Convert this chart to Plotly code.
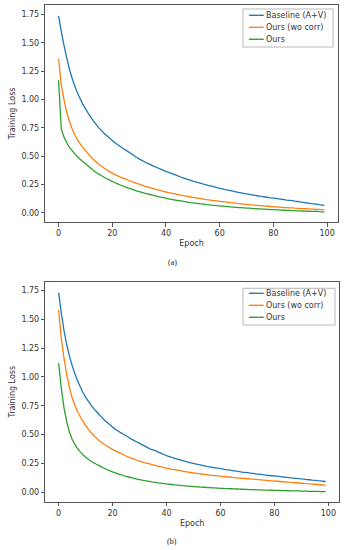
import plotly.graph_objects as go

epochs = list(range(100))

baseline_a = [1.74, 1.60, 1.48, 1.37, 1.27, 1.19, 1.12, 1.06, 1.01, 0.96,
              0.92, 0.88, 0.845, 0.81, 0.78, 0.75, 0.725, 0.70, 0.68, 0.66,
              0.638, 0.618, 0.60, 0.585, 0.568, 0.553, 0.538, 0.523, 0.505, 0.49,
              0.476, 0.463, 0.45, 0.438, 0.427, 0.416, 0.405, 0.395, 0.385, 0.375,
              0.365, 0.356, 0.347, 0.338, 0.329, 0.32, 0.311, 0.303, 0.295, 0.287,
              0.279, 0.272, 0.265, 0.259, 0.252, 0.246, 0.24, 0.234, 0.228, 0.222,
              0.216, 0.211, 0.205, 0.20, 0.195, 0.19, 0.185, 0.18, 0.175, 0.17,
              0.166, 0.162, 0.158, 0.154, 0.15, 0.146, 0.143, 0.139, 0.136, 0.132,
              0.129, 0.126, 0.122, 0.119, 0.116, 0.112, 0.109, 0.106, 0.102, 0.099,
              0.095, 0.092, 0.088, 0.085, 0.081, 0.078, 0.075, 0.071, 0.068, 0.064]
wocorr_a = [1.36, 1.13, 1.00, 0.89, 0.81, 0.745, 0.69, 0.645, 0.61, 0.578,
            0.55, 0.522, 0.495, 0.47, 0.448, 0.428, 0.41, 0.393, 0.378, 0.363,
            0.35, 0.337, 0.325, 0.315, 0.305, 0.296, 0.287, 0.278, 0.269, 0.26,
            0.252, 0.244, 0.236, 0.229, 0.222, 0.215, 0.208, 0.201, 0.195, 0.189,
            0.183, 0.178, 0.173, 0.168, 0.163, 0.158, 0.153, 0.149, 0.145, 0.141,
            0.136, 0.132, 0.128, 0.124, 0.12, 0.116, 0.113, 0.11, 0.107, 0.104,
            0.101, 0.098, 0.095, 0.092, 0.089, 0.087, 0.084, 0.081, 0.079, 0.076,
            0.074, 0.072, 0.069, 0.067, 0.065, 0.063, 0.061, 0.059, 0.057, 0.055,
            0.054, 0.052, 0.05, 0.048, 0.046, 0.045, 0.043, 0.042, 0.04, 0.039,
            0.037, 0.036, 0.035, 0.034, 0.032, 0.031, 0.03, 0.029, 0.028, 0.027]
ours_a = [1.17, 0.74, 0.67, 0.62, 0.58, 0.55, 0.52, 0.495, 0.472, 0.452,
          0.432, 0.412, 0.392, 0.373, 0.356, 0.341, 0.327, 0.313, 0.30, 0.288,
          0.277, 0.265, 0.255, 0.245, 0.236, 0.227, 0.218, 0.21, 0.202, 0.194,
          0.187, 0.18, 0.173, 0.167, 0.161, 0.155, 0.149, 0.143, 0.138, 0.133,
          0.128, 0.123, 0.118, 0.114, 0.11, 0.106, 0.102, 0.098, 0.094, 0.09,
          0.087, 0.084, 0.081, 0.078, 0.075, 0.072, 0.07, 0.067, 0.065, 0.062,
          0.06, 0.058, 0.056, 0.054, 0.052, 0.05, 0.048, 0.046, 0.045, 0.043,
          0.041, 0.04, 0.038, 0.037, 0.035, 0.034, 0.032, 0.031, 0.03, 0.028,
          0.027, 0.026, 0.025, 0.023, 0.022, 0.021, 0.02, 0.019, 0.018, 0.017,
          0.016, 0.015, 0.014, 0.013, 0.012, 0.012, 0.014, 0.01, 0.008, 0.006]

baseline_b = [1.73, 1.55, 1.40, 1.28, 1.18, 1.10, 1.03, 0.97, 0.915, 0.865,
              0.825, 0.79, 0.755, 0.725, 0.70, 0.675, 0.65, 0.625, 0.605, 0.585,
              0.565, 0.548, 0.532, 0.517, 0.503, 0.49, 0.475, 0.461, 0.448, 0.436,
              0.424, 0.412, 0.4, 0.388, 0.375, 0.369, 0.359, 0.348, 0.338, 0.328,
              0.318, 0.31, 0.302, 0.295, 0.288, 0.281, 0.274, 0.268, 0.262, 0.256,
              0.25, 0.245, 0.24, 0.235, 0.23, 0.225, 0.221, 0.217, 0.213, 0.209,
              0.205, 0.201, 0.197, 0.194, 0.19, 0.187, 0.183, 0.18, 0.176, 0.173,
              0.17, 0.167, 0.164, 0.161, 0.158, 0.155, 0.152, 0.149, 0.146, 0.144,
              0.142, 0.14, 0.137, 0.134, 0.131, 0.129, 0.126, 0.124, 0.121, 0.119,
              0.116, 0.114, 0.111, 0.109, 0.106, 0.104, 0.101, 0.099, 0.096, 0.094]
wocorr_b = [1.58, 1.33, 1.16, 1.02, 0.91, 0.82, 0.755, 0.70, 0.655, 0.615,
            0.58, 0.547, 0.518, 0.493, 0.47, 0.45, 0.432, 0.415, 0.40, 0.385,
            0.372, 0.36, 0.348, 0.337, 0.326, 0.315, 0.305, 0.296, 0.287, 0.278,
            0.27, 0.263, 0.256, 0.25, 0.244, 0.238, 0.232, 0.226, 0.22, 0.215,
            0.21, 0.205, 0.20, 0.196, 0.192, 0.188, 0.184, 0.18, 0.176, 0.172,
            0.168, 0.165, 0.162, 0.159, 0.156, 0.153, 0.15, 0.147, 0.145, 0.142,
            0.14, 0.137, 0.135, 0.133, 0.131, 0.128, 0.126, 0.124, 0.122, 0.12,
            0.118, 0.116, 0.114, 0.112, 0.11, 0.108, 0.106, 0.104, 0.102, 0.10,
            0.098, 0.096, 0.094, 0.092, 0.09, 0.088, 0.086, 0.085, 0.083, 0.081,
            0.079, 0.077, 0.076, 0.074, 0.072, 0.07, 0.068, 0.066, 0.064, 0.062]
ours_b = [1.12, 0.90, 0.73, 0.61, 0.52, 0.46, 0.415, 0.38, 0.35, 0.325,
          0.305, 0.286, 0.27, 0.256, 0.243, 0.231, 0.219, 0.207, 0.196, 0.186,
          0.177, 0.169, 0.161, 0.153, 0.146, 0.139, 0.133, 0.127, 0.121, 0.115,
          0.11, 0.105, 0.101, 0.097, 0.093, 0.089, 0.086, 0.082, 0.079, 0.076,
          0.073, 0.07, 0.068, 0.065, 0.063, 0.061, 0.058, 0.056, 0.054, 0.052,
          0.05, 0.048, 0.047, 0.045, 0.044, 0.042, 0.041, 0.039, 0.038, 0.037,
          0.035, 0.034, 0.033, 0.032, 0.031, 0.03, 0.029, 0.028, 0.027, 0.026,
          0.025, 0.024, 0.023, 0.022, 0.022, 0.021, 0.02, 0.019, 0.019, 0.018,
          0.017, 0.017, 0.016, 0.015, 0.015, 0.014, 0.013, 0.013, 0.012, 0.012,
          0.011, 0.01, 0.01, 0.009, 0.009, 0.008, 0.008, 0.007, 0.007, 0.006]

series_names = ["Baseline (A+V)", "Ours (wo corr)", "Ours"]
colors = ["#1f77b4", "#ff7f0e", "#2ca02c"]
x_ticks = [0, 20, 40, 60, 80, 100]
y_ticks = [0.0, 0.25, 0.5, 0.75, 1.0, 1.25, 1.5, 1.75]
captions = ["(a)", "(b)"]

W, H = 346, 550
FONT = "DejaVu Sans"
TXT = "#333333"

fig = go.Figure()
for vals, name, c in zip([baseline_a, wocorr_a, ours_a], series_names, colors):
    fig.add_trace(go.Scatter(x=epochs, y=vals, name=name, mode="lines",
                             line=dict(color=c, width=1.3, simplify=False),
                             xaxis="x", yaxis="y", showlegend=False))
for vals, name, c in zip([baseline_b, wocorr_b, ours_b], series_names, colors):
    fig.add_trace(go.Scatter(x=epochs, y=vals, name=name, mode="lines",
                             line=dict(color=c, width=1.3, simplify=False),
                             xaxis="x2", yaxis="y2", showlegend=False))

def px_x(p):
    return p / W

def px_y(p):
    return 1 - p / H

axis_common = dict(showline=True, mirror=True, linecolor="#555555", linewidth=1,
                   ticks="outside", ticklen=3.5, tickwidth=0.8, tickcolor="#555555",
                   showgrid=False, zeroline=False,
                   tickfont=dict(family=FONT, size=8, color=TXT))

xa = dict(axis_common, tickvals=x_ticks, range=[-4.95, 103.95],
          title=dict(text="Epoch", font=dict(family=FONT, size=8, color=TXT), standoff=3))
ya = dict(axis_common, tickvals=y_ticks, tickformat=".2f",
          title=dict(text="Training Loss", font=dict(family=FONT, size=8, color=TXT), standoff=4))

fig.update_layout(
    width=W, height=H,
    margin=dict(l=0, r=0, t=0, b=0),
    paper_bgcolor="white", plot_bgcolor="white",
    xaxis=dict(xa, domain=[px_x(45.3), px_x(337.7)], anchor="y"),
    yaxis=dict(ya, domain=[px_y(222), px_y(4.7)], range=[-0.082, 1.838], anchor="x"),
    xaxis2=dict(xa, domain=[px_x(45.3), px_x(339)], anchor="y2"),
    yaxis2=dict(ya, domain=[px_y(501.7), px_y(281.7)], range=[-0.081, 1.825], anchor="x2"),
    showlegend=False,
)

# legend boxes (frame + text rows)
legend_specs = [
    dict(box=(243, 9, 333, 47), rows=[15.7, 27.5, 39.3], x0=246),
    dict(box=(243, 288.3, 335, 325), rows=[293.0, 305.0, 317.3], x0=246),
]
for spec in legend_specs:
    bx0, by0, bx1, by1 = spec["box"]
    fig.add_shape(type="rect", xref="paper", yref="paper",
                  x0=px_x(bx0), x1=px_x(bx1), y0=px_y(by1), y1=px_y(by0),
                  line=dict(color="#b8b8b8", width=1), fillcolor="white",
                  layer="above")
    for name, c, yr in zip(series_names, colors, spec["rows"]):
        fig.add_annotation(
            text=f'<span style="color:{c}">━━━</span> {name}',
            x=px_x(spec["x0"]), y=px_y(yr), xref="paper", yref="paper",
            showarrow=False, xanchor="left", yanchor="middle",
            font=dict(family=FONT, size=8, color=TXT))

for cap, yp in zip(captions, [262.7, 541.7]):
    fig.add_annotation(text=cap, x=px_x(172), y=px_y(yp), xref="paper", yref="paper",
                       showarrow=False, xanchor="center", yanchor="middle",
                       font=dict(family="Liberation Serif", size=8, color="#222222"))

fig.write_html("out.html", config={"displayModeBar": False},
               post_script="document.body.style.margin='0';document.body.style.padding='0';")
